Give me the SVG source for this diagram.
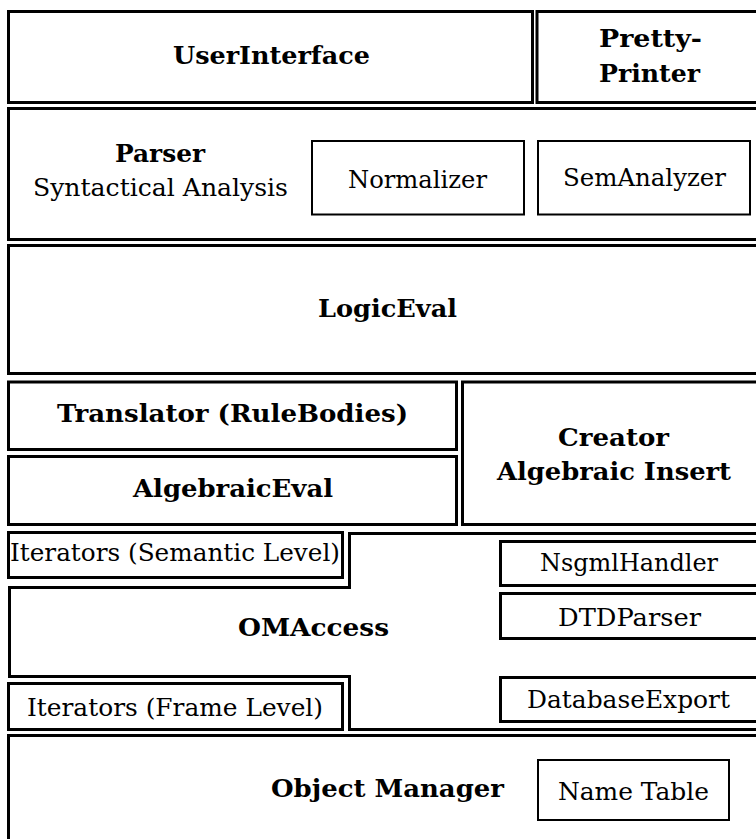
<svg xmlns="http://www.w3.org/2000/svg" width="756" height="839" viewBox="0 0 756 839">
<style>
.thick{fill:none;stroke:#000;stroke-width:3}
.thin{fill:none;stroke:#000;stroke-width:2}
text{font-family:"DejaVu Serif","Liberation Serif",serif;font-size:24px;fill:#000}
.b{font-weight:bold}
</style>
<rect width="756" height="839" fill="#fff"/>
<g id="UserInterface">
<rect class="thick" x="8.5" y="11.5" width="524" height="91"/>
<text class="b" x="173" y="64" textLength="197" lengthAdjust="spacingAndGlyphs">UserInterface</text>
</g>
<g id="PrettyPrinter">
<rect class="thick" x="537" y="11.5" width="230" height="91"/>
<text class="b" x="599" y="47" textLength="103" lengthAdjust="spacingAndGlyphs">Pretty-</text>
<text class="b" x="599" y="82" textLength="101" lengthAdjust="spacingAndGlyphs">Printer</text>
</g>
<g id="Parser">
<rect class="thick" x="8.5" y="108.5" width="760" height="131"/>
<text class="b" x="115" y="162" textLength="90" lengthAdjust="spacingAndGlyphs">Parser</text>
<text x="33" y="196" textLength="255" lengthAdjust="spacingAndGlyphs">Syntactical Analysis</text>
</g>
<g id="Normalizer">
<rect class="thin" x="312" y="141" width="212" height="73.5"/>
<text x="348" y="188" textLength="139" lengthAdjust="spacingAndGlyphs">Normalizer</text>
</g>
<g id="SemAnalyzer">
<rect class="thin" x="538" y="141" width="212" height="73.5"/>
<text x="563" y="186" textLength="163" lengthAdjust="spacingAndGlyphs">SemAnalyzer</text>
</g>
<g id="LogicEval">
<rect class="thick" x="8.5" y="245.5" width="760" height="128"/>
<text class="b" x="318" y="317" textLength="139" lengthAdjust="spacingAndGlyphs">LogicEval</text>
</g>
<g id="Translator">
<rect class="thick" x="8.5" y="382" width="448" height="67.5"/>
<text class="b" x="57" y="422" textLength="351" lengthAdjust="spacingAndGlyphs">Translator (RuleBodies)</text>
</g>
<g id="AlgebraicEval">
<rect class="thick" x="8.5" y="456.5" width="448" height="68"/>
<text class="b" x="133" y="497" textLength="200" lengthAdjust="spacingAndGlyphs">AlgebraicEval</text>
</g>
<g id="Creator">
<rect class="thick" x="462.5" y="382" width="300" height="142.5"/>
<text class="b" x="558" y="446" textLength="111" lengthAdjust="spacingAndGlyphs">Creator</text>
<text class="b" x="497" y="480" textLength="234" lengthAdjust="spacingAndGlyphs">Algebraic Insert</text>
</g>
<g id="OMAccess">
<polygon class="thick" points="349.5,533.5 770,533.5 770,729.5 349.5,729.5 349.5,676.5 9.5,676.5 9.5,587.5 349.5,587.5"/>
<text class="b" x="238" y="636" textLength="151" lengthAdjust="spacingAndGlyphs">OMAccess</text>
</g>
<g id="IteratorsSemantic">
<rect class="thick" x="8.5" y="532.5" width="334" height="45"/>
<text x="10" y="561" textLength="330" lengthAdjust="spacingAndGlyphs">Iterators (Semantic Level)</text>
</g>
<g id="IteratorsFrame">
<rect class="thick" x="8.5" y="683.5" width="334" height="46"/>
<text x="27" y="716" textLength="296" lengthAdjust="spacingAndGlyphs">Iterators (Frame Level)</text>
</g>
<g id="NsgmlHandler">
<rect class="thick" x="500.5" y="541.5" width="270" height="44"/>
<text x="540" y="571" textLength="178" lengthAdjust="spacingAndGlyphs">NsgmlHandler</text>
</g>
<g id="DTDParser">
<rect class="thick" x="500.5" y="593.5" width="270" height="45"/>
<text x="558" y="626" textLength="143" lengthAdjust="spacingAndGlyphs">DTDParser</text>
</g>
<g id="DatabaseExport">
<rect class="thick" x="500.5" y="677.5" width="270" height="44"/>
<text x="527" y="708" textLength="203" lengthAdjust="spacingAndGlyphs">DatabaseExport</text>
</g>
<g id="ObjectManager">
<rect class="thick" x="8.5" y="735.5" width="770" height="120"/>
<text class="b" x="271" y="797" textLength="233" lengthAdjust="spacingAndGlyphs">Object Manager</text>
</g>
<g id="NameTable">
<rect class="thin" x="538" y="760" width="191" height="60"/>
<text x="558" y="800" textLength="151" lengthAdjust="spacingAndGlyphs">Name Table</text>
</g>
</svg>
